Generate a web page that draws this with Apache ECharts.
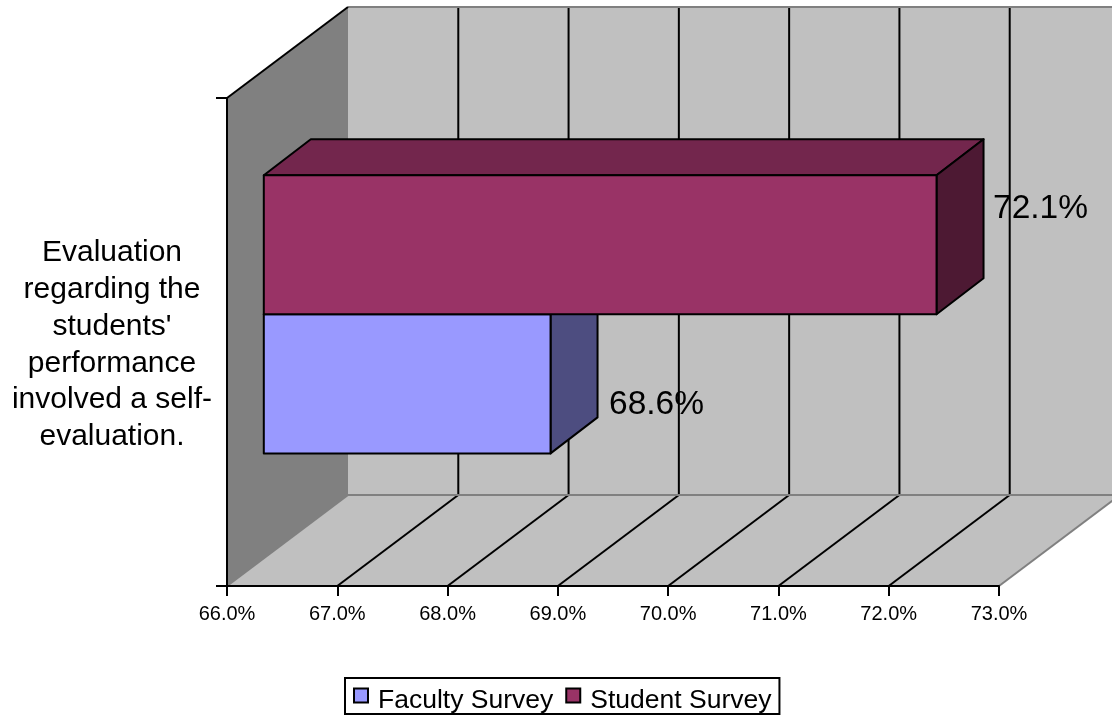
<!DOCTYPE html>
<html>
<head>
<meta charset="utf-8">
<style>html,body{margin:0;padding:0;background:#fff}#chart{width:1112px;height:717px}</style>
<script src="https://cdn.jsdelivr.net/npm/echarts@6/dist/echarts.min.js"></script>
</head>
<body>
<div id="chart"></div>
<script>
// Survey results
const categories = ["Evaluation\nregarding the\nstudents'\nperformance\ninvolved a self-\nevaluation."];
const seriesNames = ['Faculty Survey', 'Student Survey'];
const facultyValues = [68.6];
const studentValues = [72.1];
const xTicks = [66, 67, 68, 69, 70, 71, 72, 73];

// Oblique projection of the 3D box
const DEPTH = { x: 121, y: -91 };
const BAR_FRONT = { x: 36.8, y: -27.7 };
const BAR_DEPTH = { x: 47, y: -36 };
const BAR_SHARE = 0.285;
const FONT = '"Liberation Sans", Arial, sans-serif';

const palette = {
  sideWall: '#808080', wall: '#c0c0c0', edge: '#808080', line: '#000000',
  faculty: { front: '#9999ff', side: '#4d4d80', top: '#73739f' },
  student: { front: '#993366', side: '#4d1933', top: '#73264d' }
};

function poly(points, fill, stroke, width) {
  return {
    type: 'polygon',
    shape: { points },
    style: { fill, stroke: stroke || null, lineWidth: width || 0, lineJoin: 'round' }
  };
}
function seg(a, b, stroke, width) {
  return {
    type: 'line',
    shape: { x1: a[0], y1: a[1], x2: b[0], y2: b[1] },
    style: { stroke, lineWidth: width }
  };
}
function back(p) { return [p[0] + DEPTH.x, p[1] + DEPTH.y]; }

// Walls, floor, gridlines and the category caption, all placed from the axes
function renderBox(params, api) {
  const centre = api.coord([xTicks[0], 0]);
  const band = api.size([0, 1])[1];
  const top = centre[1] - band / 2, bottom = centre[1] + band / 2;
  const xMin = centre[0];
  const xMax = api.coord([xTicks[xTicks.length - 1], 0])[0];
  const fl = [xMin, top], bl = [xMin, bottom], br = [xMax, bottom], tr = [xMax, top];
  const children = [
    poly([back(fl), back(tr), back(br), back(bl)], palette.wall),
    poly([bl, br, back(br), back(bl)], palette.wall),
    poly([fl, back(fl), back(bl), bl], palette.sideWall)
  ];
  xTicks.slice(1).forEach(function (t) {
    const p = [api.coord([t, 0])[0], bottom];
    const q = back(p);
    children.push(seg([q[0], q[1] - band], q, palette.line, 2));
    if (t !== xTicks[xTicks.length - 1]) children.push(seg(p, q, palette.line, 2));
  });
  children.push(
    seg(back(fl), back(tr), palette.edge, 2),
    seg(back(bl), back(br), palette.edge, 2),
    seg(br, back(br), palette.edge, 2),
    seg(bl, back(bl), palette.edge, 2),
    seg(fl, back(fl), palette.line, 2),
    {
      type: 'text',
      style: {
        x: xMin - 115,
        y: centre[1] + 3,
        text: categories[0],
        fill: '#000',
        font: '30px ' + FONT,
        lineHeight: 36.8,
        textAlign: 'center',
        textVerticalAlign: 'middle'
      }
    }
  );
  return { type: 'group', children };
}

// One extruded bar: dir is -1 above the band centre, +1 below it
function barRenderer(colors, dir, labelDx, labelDy) {
  return function (params, api) {
    const value = api.value(0);
    const start = api.coord([xTicks[0], 0]);
    const end = api.coord([value, 0]);
    const thick = api.size([0, 1])[1] * BAR_SHARE;
    const y0 = start[1] + BAR_FRONT.y;
    const y1 = y0 + dir * thick;
    const yTop = Math.min(y0, y1), yBot = Math.max(y0, y1);
    const xl = start[0] + BAR_FRONT.x, xr = end[0] + BAR_FRONT.x;
    const dx = BAR_DEPTH.x, dy = BAR_DEPTH.y;
    return {
      type: 'group',
      children: [
        poly([[xl, yTop], [xl + dx, yTop + dy], [xr + dx, yTop + dy], [xr, yTop]], colors.top, palette.line, 2),
        poly([[xr, yTop], [xr + dx, yTop + dy], [xr + dx, yBot + dy], [xr, yBot]], colors.side, palette.line, 2),
        poly([[xl, yTop], [xr, yTop], [xr, yBot], [xl, yBot]], colors.front, palette.line, 2),
        {
          type: 'text',
          z2: 10,
          style: {
            x: xr + dx + labelDx,
            y: (yTop + yBot) / 2 + labelDy,
            text: value.toFixed(1) + '%',
            fill: '#000',
            font: '33.5px ' + FONT,
            textAlign: 'left',
            textVerticalAlign: 'middle'
          }
        }
      ]
    };
  };
}

const chart = echarts.init(document.getElementById('chart'), null, { renderer: 'canvas' });
chart.setOption({
  animation: false,
  backgroundColor: '#ffffff',
  grid: { left: 227, top: 98, width: 772, height: 488, containLabel: false },
  xAxis: {
    type: 'value',
    min: xTicks[0],
    max: xTicks[xTicks.length - 1],
    interval: 1,
    z: 3,
    splitLine: { show: false },
    axisLine: { show: true, onZero: false, lineStyle: { color: '#000', width: 2 } },
    axisTick: { show: true, length: 10, lineStyle: { color: '#000', width: 2 } },
    axisLabel: {
      formatter: function (v) { return v.toFixed(1) + '%'; },
      color: '#000', fontFamily: FONT, fontSize: 20, margin: 18,
      showMinLabel: true, showMaxLabel: true
    }
  },
  yAxis: {
    type: 'category',
    data: categories,
    z: 3,
    splitLine: { show: false },
    axisLine: { show: true, lineStyle: { color: '#000', width: 2 } },
    axisTick: { show: true, length: 11, alignWithLabel: false, lineStyle: { color: '#000', width: 2 } },
    axisLabel: { show: false }
  },
  legend: {
    left: 345,
    top: 678,
    data: seriesNames,
    orient: 'horizontal',
    icon: 'rect',
    itemWidth: 14,
    itemHeight: 14,
    itemGap: 12,
    padding: [9, 8, 0, 8],
    borderColor: '#000',
    borderWidth: 2,
    backgroundColor: '#fff',
    itemStyle: { borderColor: '#000', borderWidth: 2 },
    formatter: function (name) { return '{t|' + name + '}'; },
    textStyle: {
      color: '#000', fontFamily: FONT, fontSize: 26.5,
      rich: { t: { color: '#000', fontFamily: FONT, fontSize: 26.5, padding: [10, 0, 0, 5] } }
    }
  },
  series: [
    { type: 'custom', name: 'box', z: 1, silent: true, renderItem: renderBox, data: [[xTicks[0], 0]], encode: { x: 0, y: 1 } },
    { type: 'custom', name: seriesNames[0], z: 4, renderItem: barRenderer(palette.faculty, 1, 11.5, 21),
      itemStyle: { color: palette.faculty.front },
      data: facultyValues.map(function (v, i) { return [v, i]; }), encode: { x: 0, y: 1 } },
    { type: 'custom', name: seriesNames[1], z: 5, renderItem: barRenderer(palette.student, -1, 9.5, -36),
      itemStyle: { color: palette.student.front },
      data: studentValues.map(function (v, i) { return [v, i]; }), encode: { x: 0, y: 1 } }
  ]
});
</script>
</body>
</html>
